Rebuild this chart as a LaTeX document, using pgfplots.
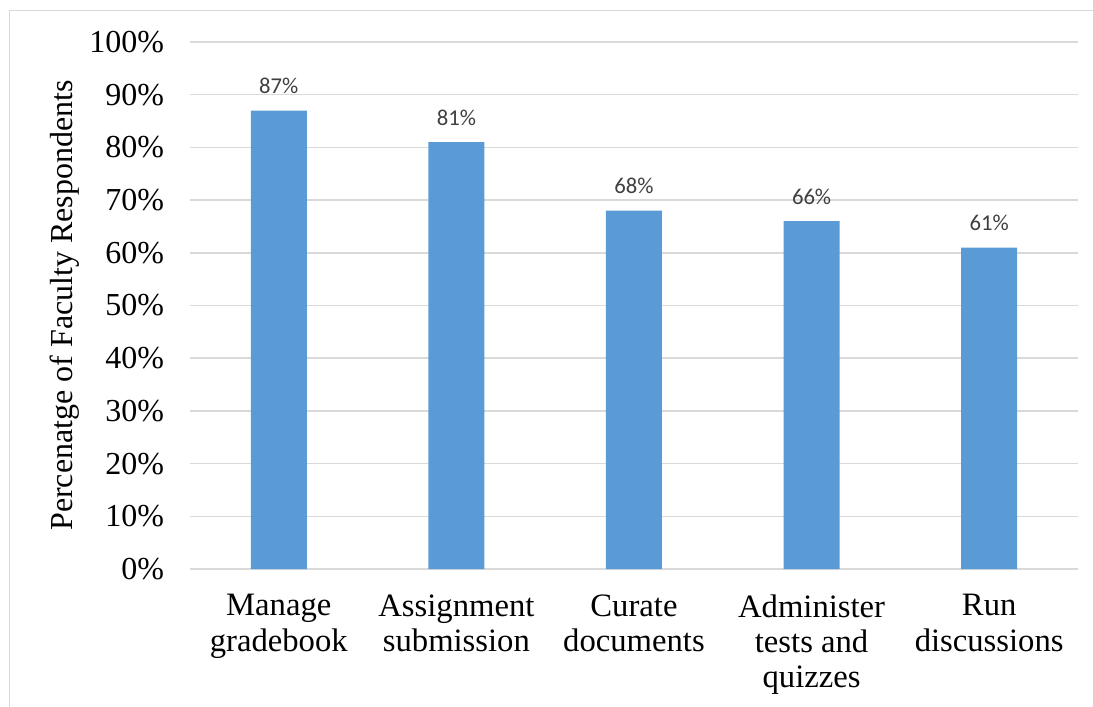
\documentclass[border=0pt]{standalone}
\usepackage{fontspec}
\setmainfont{Liberation Serif}
\newfontfamily\calib{Carlito}
\usepackage{pgfplots}
\pgfplotsset{compat=1.18}
\definecolor{barblue}{HTML}{5B9BD5}
\definecolor{gridgray}{HTML}{D9D9D9}
\definecolor{labgray}{HTML}{404040}
\begin{document}
\begin{tikzpicture}[x=1pt,y=1pt]
\useasboundingbox (-142.5,-103.5) rectangle (677.25,426.75);
\draw[gridgray, line width=0.75pt] (-135,-110) -- (-135,418.5) -- (690,418.5);
\begin{axis}[
  at={(0,0)}, anchor=south west,
  scale only axis, width=666pt, height=395.25pt,
  ymin=0, ymax=100, xmin=-0.5, xmax=4.5,
  ytick={0,10,...,100},
  xtick={0,1,2,3,4},
  xticklabels={{Manage\\gradebook},{Assignment\\submission},{Curate\\documents},{Administer\\tests and\\quizzes},{Run\\discussions}},
  xticklabel style={align=center, font=\fontsize{24.5}{26.5}\selectfont, yshift=-15.5pt},
  yticklabel={\pgfmathprintnumber{\tick}\%},
  yticklabel style={font=\fontsize{24}{26}\selectfont, xshift=-16pt},
  /pgf/number format/assume math mode=true,
  major tick length=0pt,
  ymajorgrids, grid style={gridgray, line width=1.1pt},
  axis x line*=bottom, axis y line*=left,
  x axis line style={draw=gridgray, line width=1.1pt, -},
  y axis line style={draw=none},
  ylabel={Percenatge of Faculty Respondents},
  every axis y label/.style={at={(-0.1408,0.5)}, rotate=90, anchor=center, font=\fontsize{24}{26}\selectfont},
  clip=false,
]
\addplot[ybar, bar width=42pt, fill=barblue, draw=none,
  nodes near coords={\pgfmathprintnumber{\pgfplotspointmeta}\%},
  nodes near coords style={font=\calib\fontsize{17}{19}\selectfont, text=labgray, yshift=9pt},
] coordinates {(0,87) (1,81) (2,68) (3,66) (4,61)};
\end{axis}
\end{tikzpicture}
\end{document}
